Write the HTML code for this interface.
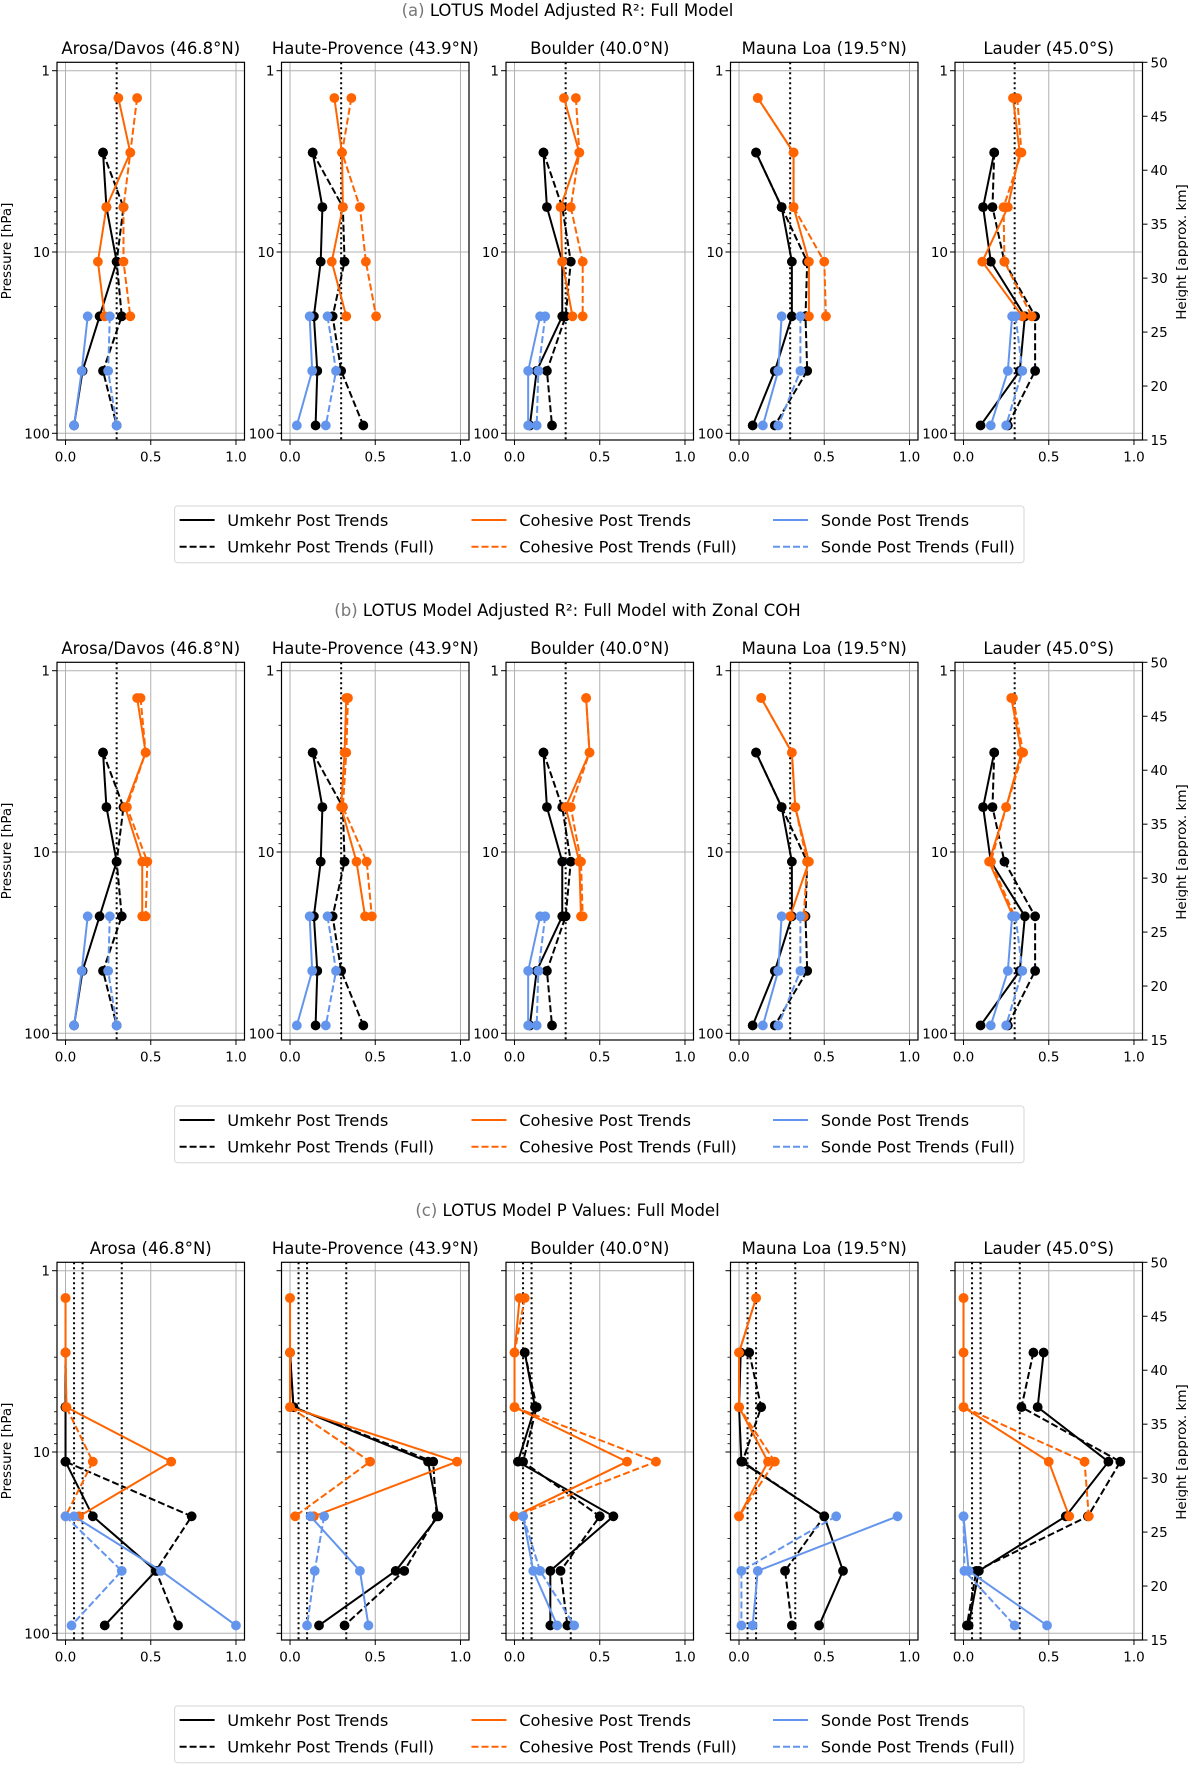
<!DOCTYPE html>
<html><head><meta charset="utf-8">
<style>
html,body{margin:0;padding:0;background:#fff;}
svg{display:block;font-family:"DejaVu Sans","Liberation Sans",sans-serif;}
</style></head>
<body>
<svg id="fig" width="1188" height="1765" viewBox="0 0 1188 1765" xmlns="http://www.w3.org/2000/svg"></svg>
<script>
// ---------- data ----------
const pressures = [1.414, 2.828, 5.657, 11.31, 22.63, 45.25, 90.51];
const rowTitles = ["LOTUS Model Adjusted R²: Full Model", "LOTUS Model Adjusted R²: Full Model with Zonal COH", "LOTUS Model P Values: Full Model"];
const rowLetters = ["(a)", "(b)", "(c)"];
const stationsAB = ["Arosa/Davos (46.8°N)", "Haute-Provence (43.9°N)", "Boulder (40.0°N)", "Mauna Loa (19.5°N)", "Lauder (45.0°S)"];
const stationsC = ["Arosa (46.8°N)", "Haute-Provence (43.9°N)", "Boulder (40.0°N)", "Mauna Loa (19.5°N)", "Lauder (45.0°S)"];
const xTicks = [0, 0.5, 1.0];
const xTickLabels = ["0.0", "0.5", "1.0"];
const pTicks = [1, 10, 100];
const hTicks = [15, 20, 25, 30, 35, 40, 45, 50];
const refLinesAB = [0.3];
const refLinesC = [0.05, 0.1, 0.33];

// Row (a)
const umkA = [[null,0.22,0.24,0.30,0.20,0.10,0.05],[null,0.133,0.19,0.18,0.14,0.16,0.15],[null,0.17,0.19,0.28,0.28,0.13,0.09],[null,0.10,0.25,0.31,0.31,0.21,0.08],[null,0.18,0.115,0.16,0.36,0.33,0.10]];
const umkFullA = [[null,0.22,0.34,0.30,0.33,0.22,0.30],[null,0.133,0.31,0.32,0.25,0.30,0.43],[null,0.17,0.28,0.33,0.30,0.19,0.22],[null,0.10,0.25,0.40,0.39,0.40,0.21],[null,0.18,0.17,0.24,0.42,0.42,0.26]];
const cohA = [[0.31,0.38,0.24,0.19,0.23],[0.26,0.305,0.31,0.245,0.33],[0.29,0.38,0.27,0.28,0.34],[0.11,0.32,0.32,0.41,0.41],[0.29,0.33,0.26,0.11,0.345]];
const cohFullA = [[0.42,0.38,0.34,0.34,0.38],[0.36,0.305,0.41,0.445,0.505],[0.36,0.38,0.33,0.40,0.40],[0.11,0.32,0.32,0.50,0.51],[0.315,0.34,0.235,0.24,0.40]];
const sondeA = [[0.13,0.095,0.05],[0.115,0.13,0.04],[0.15,0.08,0.08],[0.25,0.23,0.14],[0.285,0.26,0.16]];
const sondeFullA = [[0.26,0.25,0.30],[0.22,0.27,0.21],[0.18,0.14,0.13],[0.36,0.36,0.23],[0.305,0.345,0.25]];
// Row (b)
const umkB = [[null,0.22,0.24,0.30,0.20,0.10,0.05],[null,0.133,0.19,0.18,0.14,0.16,0.15],[null,0.17,0.19,0.28,0.28,0.13,0.09],[null,0.10,0.25,0.31,0.31,0.21,0.08],[null,0.18,0.115,0.16,0.36,0.33,0.10]];
const umkFullB = [[null,0.22,0.34,0.30,0.33,0.22,0.30],[null,0.133,0.31,0.32,0.25,0.30,0.43],[null,0.17,0.28,0.33,0.30,0.19,0.22],[null,0.10,0.25,0.40,0.39,0.40,0.21],[null,0.18,0.17,0.24,0.42,0.42,0.26]];
const cohB = [[0.42,0.47,0.35,0.45,0.45],[0.33,0.32,0.30,0.39,0.44],[0.42,0.44,0.30,0.38,0.39],[0.13,0.31,0.33,0.41,0.30],[0.28,0.34,0.25,0.15,0.29]];
const cohFullB = [[0.44,0.47,0.36,0.48,0.47],[0.34,0.33,0.31,0.45,0.48],[0.42,0.44,0.33,0.39,0.40],[0.13,0.31,0.33,0.40,0.38],[0.29,0.35,0.25,0.16,0.30]];
const sondeB = [[0.13,0.095,0.05],[0.115,0.13,0.04],[0.15,0.08,0.08],[0.25,0.23,0.14],[0.285,0.26,0.16]];
const sondeFullB = [[0.26,0.25,0.30],[0.22,0.27,0.21],[0.18,0.14,0.13],[0.36,0.36,0.23],[0.305,0.345,0.25]];
// Row (c)
const umkC = [[null,0,0,0,0.16,0.53,0.23],[null,0,0.02,0.81,0.87,0.62,0.17],[null,0.06,0.12,0.02,0.58,0.21,0.21],[null,0.01,0.0,0.014,0.50,0.61,0.47],[null,0.47,0.435,0.85,0.60,0.09,0.03]];
const umkFullC = [[null,0,0,0,0.74,0.53,0.66],[null,0,0.02,0.84,0.86,0.67,0.32],[null,0.06,0.13,0.05,0.50,0.27,0.31],[null,0.06,0.13,0.02,0.50,0.27,0.31],[null,0.41,0.34,0.92,0.73,0.075,0.02]];
const cohC = [[0,0,0.005,0.62,0.08],[0,0,0,0.98,0.14],[0.03,0,0,0.66,0],[0.10,0,0,0.17,0],[0,0,0,0.50,0.62]];
const cohFullC = [[0,0,0.005,0.16,0],[0,0,0,0.47,0.03],[0.06,0,0,0.83,0],[0.10,0,0,0.21,0],[0,0,0,0.71,0.735]];
const sondeC = [[0.05,0.56,1.0],[0.12,0.41,0.46],[0.05,0.11,0.25],[0.93,0.11,0.08],[0,0.03,0.49]];
const sondeFullC = [[0,0.33,0.035],[0.20,0.145,0.10],[0.05,0.15,0.35],[0.57,0.014,0.014],[0,0.005,0.30]];

// ---------- drawing ----------
const NS = "http://www.w3.org/2000/svg";
const svg = document.getElementById("fig");
const BLACK = "#000", ORANGE = "#ff6400", BLUE = "#6495ed";
const AX_LEFTS = [57, 281.5, 506, 730.5, 955], AX_W = 187.5, AX_TOP = 62.3, AX_BOT = 440;
function mk(tag, attrs, parent) {
  const e = document.createElementNS(NS, tag);
  for (const k in attrs) e.setAttribute(k, attrs[k]);
  (parent || svg).appendChild(e);
  return e;
}
function txt(s, attrs, parent) { const t = mk("text", attrs, parent); t.textContent = s; return t; }

const rows = [
  {umk: umkA, umkF: umkFullA, coh: cohA, cohF: cohFullA, son: sondeA, sonF: sondeFullA, st: stationsAB, refs: refLinesAB, allLabels: true},
  {umk: umkB, umkF: umkFullB, coh: cohB, cohF: cohFullB, son: sondeB, sonF: sondeFullB, st: stationsAB, refs: refLinesAB, allLabels: true},
  {umk: umkC, umkF: umkFullC, coh: cohC, cohF: cohFullC, son: sondeC, sonF: sondeFullC, st: stationsC, refs: refLinesC, allLabels: false}
];

rows.forEach((row, r) => {
  const dy = 600 * r;
  const top = AX_TOP + dy, bot = AX_BOT + dy;
  const yOf = p => 70.7 + dy + Math.log10(p) * 181.3;
  const rowG = mk("g", {});
  
  
  const title = mk("text", {x: 567.5, y: 16 + dy, "font-size": 16.5, "text-anchor": "middle"}, rowG);
  
  
  const ts1 = mk("tspan", {fill: "#777"}, title); ts1.textContent = rowLetters[r] + " ";
  const ts2 = mk("tspan", {fill: "#000"}, title); ts2.textContent = rowTitles[r];

  for (let s = 0; s < 5; s++) {
    const L = AX_LEFTS[s], R = L + AX_W;
    const xOf = v => L + (v + 0.05) / 1.1 * AX_W;
    const g = mk("g", {}, rowG);
    
    
    const st = txt(row.st[s], {x: L + AX_W / 2, y: 54 + dy, "font-size": 16.5, "text-anchor": "middle"}, g);
    
    
    // grid
    xTicks.forEach(v => mk("line", {x1: xOf(v), x2: xOf(v), y1: top, y2: bot, stroke: "#b0b0b0", "stroke-width": 1}, g));
    pTicks.forEach(p => mk("line", {x1: L, x2: R, y1: yOf(p), y2: yOf(p), stroke: "#b0b0b0", "stroke-width": 1}, g));
    // reference dotted lines
    row.refs.forEach(v => {
      const ln = mk("line", {x1: xOf(v), x2: xOf(v), y1: top, y2: bot, stroke: "#000", "stroke-width": 2, "stroke-dasharray": "2,3"}, g);
      
      
    });
    // series
    const series = [
      {vals: row.umk[s], off: 0, c: BLACK, dash: null, n: "umkehr-post-trends"},
      {vals: row.umkF[s], off: 0, c: BLACK, dash: "7,3", n: "umkehr-post-trends-full"},
      {vals: row.coh[s], off: 0, c: ORANGE, dash: null, n: "cohesive-post-trends"},
      {vals: row.cohF[s], off: 0, c: ORANGE, dash: "7,3", n: "cohesive-post-trends-full"},
      {vals: row.son[s], off: 4, c: BLUE, dash: null, n: "sonde-post-trends"},
      {vals: row.sonF[s], off: 4, c: BLUE, dash: "7,3", n: "sonde-post-trends-full"}
    ];
    series.forEach(se => {
      const sg = mk("g", {}, g);
      
      
      const pts = [];
      se.vals.forEach((v, i) => { if (v !== null) pts.push([xOf(v), yOf(pressures[i + se.off])]); });
      const pl = mk("polyline", {points: pts.map(p => p.join(",")).join(" "), fill: "none", stroke: se.c, "stroke-width": 2}, sg);
      if (se.dash) pl.setAttribute("stroke-dasharray", se.dash);
      pts.forEach(p => {
        const c = mk("circle", {cx: p[0], cy: p[1], r: 4.9, fill: se.c}, sg);
        
        
      });
    });
    // frame
    mk("rect", {x: L, y: top, width: AX_W, height: bot - top, fill: "none", stroke: "#000", "stroke-width": 1.2}, g);
    // x ticks
    xTicks.forEach((v, i) => {
      mk("line", {x1: xOf(v), x2: xOf(v), y1: bot, y2: bot + 5, stroke: "#000", "stroke-width": 1}, g);
      const t = txt(xTickLabels[i], {x: xOf(v), y: bot + 21.5, "font-size": 13.5, "text-anchor": "middle"}, g);
      
      
    });
    // y ticks
    for (let d = 0; d < 2; d++) for (let m = 2; m <= 9; m++) {
      const y = yOf(m * Math.pow(10, d));
      mk("line", {x1: L - 3, x2: L, y1: y, y2: y, stroke: "#000", "stroke-width": 0.8}, g);
    }
    pTicks.forEach(p => {
      mk("line", {x1: L - 5, x2: L, y1: yOf(p), y2: yOf(p), stroke: "#000", "stroke-width": 1}, g);
      if (row.allLabels || s === 0) {
        const t = txt(String(p), {x: L - 7, y: yOf(p) + 5, "font-size": 13.5, "text-anchor": "end"}, g);
        
        
      }
    });
    if (s === 0) {
      const yl = txt("Pressure [hPa]", {x: 0, y: 0, "font-size": 13.5, "text-anchor": "middle", transform: `translate(11,${251 + dy}) rotate(-90)`}, g);
      
      
    }
    if (s === 4) {
      hTicks.forEach(h => {
        const y = bot - (h - 15) / 35 * (bot - top);
        mk("line", {x1: R, x2: R + 5, y1: y, y2: y, stroke: "#000", "stroke-width": 1}, g);
        const t = txt(String(h), {x: R + 8, y: y + 5, "font-size": 13.5}, g);
        
        
      });
      const hl = txt("Height [approx. km]", {x: 0, y: 0, "font-size": 13.5, "text-anchor": "middle", transform: `translate(1186,${252 + dy}) rotate(-90)`}, g);
      
      
    }
  }
  // legend
  const lg = mk("g", {}, rowG);
  
  
  mk("rect", {x: 174.6, y: 506 + dy, width: 849.4, height: 56.7, rx: 3, fill: "#fff", stroke: "#d6d6d6", "stroke-width": 1}, lg);
  const entries = [
    {x: 179.6, c: BLACK, n: "Umkehr Post Trends"},
    {x: 471.5, c: ORANGE, n: "Cohesive Post Trends"},
    {x: 773, c: BLUE, n: "Sonde Post Trends"}
  ];
  entries.forEach(en => {
    [0, 1].forEach(k => {
      const y = (k ? 546.7 : 520) + dy;
      const eg = mk("g", {}, lg);
      
      
      const l = mk("line", {x1: en.x, x2: en.x + 35, y1: y, y2: y, stroke: en.c, "stroke-width": 2}, eg);
      if (k) l.setAttribute("stroke-dasharray", "7,3");
      txt(en.n + (k ? " (Full)" : ""), {x: en.x + 47.7, y: y + 6, "font-size": 16.3}, eg);
    });
  });
});
</script>
</body></html>
